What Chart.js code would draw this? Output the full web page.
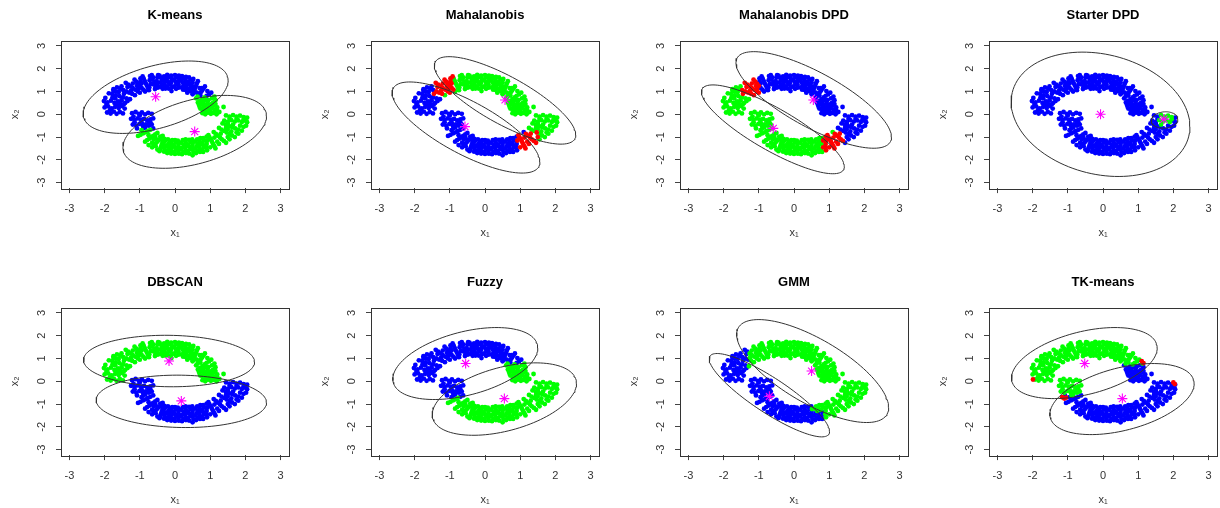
<!DOCTYPE html>
<html>
<head>
<meta charset="utf-8">
<script src="https://cdn.jsdelivr.net/npm/chart.js@4.4.1/dist/chart.umd.min.js"></script>
<style>
  body { margin: 0; background: #fff; width: 1220px; height: 508px; overflow: hidden; position: relative; }
  canvas { position: absolute; }
</style>
</head>
<body>
<script>
// panel titles, left to right, top row then bottom row
const titles = ['K-means', 'Mahalanobis', 'Mahalanobis DPD', 'Starter DPD',
                'DBSCAN', 'Fuzzy', 'GMM', 'TK-means'];
const tickValues = [-3, -2, -1, 0, 1, 2, 3];

// upper moon (left tip -> right tip)
const upperMoon = [
  [-1.93,0.08],[-1.83,0.03],[-1.74,0.12],[-1.66,0.02],[-1.57,0.1],[-1.48,0.04],
  [-2.0,0.3],[-1.9,0.35],[-1.8,0.26],[-1.7,0.33],[-1.6,0.28],[-1.5,0.36],[-1.43,0.25],
  [-2.02,0.58],[-1.92,0.52],[-1.82,0.6],[-1.72,0.5],[-1.62,0.57],[-1.52,0.62],[-1.42,0.5],[-1.35,0.58],
  [-1.88,0.92],[-1.78,0.88],[-1.68,0.83],[-1.58,0.8],[-1.48,0.74],[-1.38,0.7],[-1.28,0.66],
  [-1.65,1.18],[-1.56,1.13],[-1.47,1.06],[-1.38,1.0],[-1.3,0.95],[-1.22,0.9],[-1.14,0.84],
  [-1.4,1.38],[-1.33,1.3],[-1.26,1.22],[-1.2,1.15],[-1.13,1.08],[-1.06,1.01],[-1.0,0.95],
  [-1.15,1.52],[-1.1,1.43],[-1.05,1.34],[-1.0,1.25],[-0.95,1.16],[-0.9,1.08],[-0.85,1.0],
  [-0.92,1.66],[-0.89,1.56],[-0.86,1.46],[-0.83,1.36],[-0.8,1.26],[-0.77,1.16],[-0.74,1.06],
  [-0.66,1.72],[-0.62,1.62],[-0.64,1.52],[-0.58,1.41],[-0.61,1.31],[-0.55,1.21],[-0.57,1.11],
  [-0.44,1.7],[-0.4,1.6],[-0.36,1.5],[-0.42,1.4],[-0.37,1.3],[-0.4,1.2],[-0.35,1.12],
  [-0.22,1.73],[-0.18,1.63],[-0.24,1.53],[-0.2,1.43],[-0.16,1.33],[-0.22,1.23],[-0.18,1.13],
  [0.0,1.72],[0.04,1.62],[-0.03,1.52],[0.02,1.42],[0.05,1.32],[-0.02,1.22],[0.03,1.12],
  [0.2,1.68],[0.24,1.58],[0.17,1.48],[0.22,1.38],[0.26,1.28],[0.19,1.18],[0.23,1.08],
  [0.4,1.62],[0.44,1.52],[0.37,1.42],[0.42,1.32],[0.46,1.22],[0.39,1.12],[0.43,1.02],
  [0.65,1.45],[0.62,1.35],[0.6,1.25],[0.57,1.15],[0.55,1.06],[0.53,0.97],[0.5,0.88],
  [0.85,1.22],[0.81,1.13],[0.77,1.04],[0.73,0.96],[0.68,0.87],[0.64,0.78],[0.6,0.7],
  [1.03,0.95],[0.97,0.88],[0.9,0.81],[0.84,0.74],[0.78,0.66],[0.71,0.59],[0.65,0.52],
  [0.68,0.42],[0.76,0.46],[0.84,0.4],[0.92,0.48],[1.0,0.43],[1.08,0.5],[1.15,0.62],
  [0.72,0.25],[0.8,0.2],[0.88,0.28],[0.96,0.22],[1.04,0.27],[1.12,0.2],[1.2,0.3],
  [0.78,0.05],[0.86,0.0],[0.94,0.07],[1.02,0.02],[1.1,0.06],[1.18,0.0],[1.26,0.1],
  [1.38,0.32],[-1.75,1.02],[0.35,0.95],[-0.1,1.02],[1.12,0.78],
  [-0.72,1.5],[-0.5,1.62],[-0.3,1.42],[-0.1,1.6],[0.1,1.3],[0.3,1.5],[0.5,1.4],
  [-0.28,1.22],[0.12,1.55],[0.32,1.18],[-0.5,1.3],[-0.98,1.45],[-1.45,0.9],[-1.7,0.7],
  [-1.55,0.45],[0.7,1.15],[0.95,0.62],[1.1,0.38],[0.85,0.15],
  [-0.71,1.68],[-0.69,1.33],[-0.73,1.18],[-0.52,1.45],[-0.49,1.17],[-0.48,1.72],
  [-0.31,1.66],[-0.29,1.56],[-0.3,1.33],[-0.27,1.13],[-0.11,1.7],[-0.09,1.47],[-0.12,1.36],[-0.08,1.2],
  [0.11,1.7],[0.09,1.43],[0.1,1.17],[0.31,1.64],[0.29,1.38],[0.33,1.27],[0.3,1.07],
  [0.52,1.55],[0.48,1.25],[0.51,1.13],[0.49,0.98],
  [-1.75,1.1],[-1.6,0.98],[-1.35,1.2],[-1.2,1.35],[-1.25,1.03],[-1.08,1.25],[-0.95,1.35],
  [-1.05,1.12],[-0.98,1.58],[-1.52,1.22],[-1.68,1.0],
  [-1.95,0.45],[-1.85,0.18],[-1.65,0.42],[-1.45,0.45],[-1.78,0.72],[-1.98,0.72],
  [0.75,1.15],[0.62,0.95],[0.92,1.02],[0.72,0.82],[0.88,0.62],[0.75,0.55],[1.05,0.7],
  [0.7,0.33],[0.95,0.33],[1.15,0.45],[0.82,0.32],[1.2,0.15],[1.0,0.12],[0.8,0.5]
];

// lower moon (left tip -> right tip)
const lowerMoon = [
  [-1.22,0.05],[-1.12,0.1],[-1.03,0.02],[-0.94,0.08],[-0.85,0.0],[-0.76,0.06],[-0.66,0.02],
  [-1.25,-0.2],[-1.15,-0.25],[-1.06,-0.18],[-0.97,-0.24],[-0.88,-0.2],[-0.79,-0.27],[-0.7,-0.22],[-0.62,-0.18],
  [-1.2,-0.45],[-1.1,-0.5],[-1.01,-0.42],[-0.92,-0.48],[-0.83,-0.44],[-0.74,-0.5],[-0.66,-0.45],
  [-1.05,-0.95],[-0.98,-0.9],[-0.91,-0.84],[-0.84,-0.79],[-0.77,-0.73],[-0.7,-0.68],[-0.62,-0.62],
  [-0.85,-1.2],[-0.79,-1.13],[-0.73,-1.07],[-0.67,-1.01],[-0.62,-0.95],[-0.56,-0.88],[-0.5,-0.82],
  [-0.65,-1.45],[-0.6,-1.36],[-0.55,-1.28],[-0.5,-1.2],[-0.45,-1.12],[-0.4,-1.03],[-0.35,-0.95],
  [-0.44,-1.62],[-0.42,-1.53],[-0.4,-1.44],[-0.38,-1.35],[-0.36,-1.26],[-0.34,-1.17],[-0.3,-1.08],
  [-0.22,-1.7],[-0.2,-1.6],[-0.16,-1.5],[-0.23,-1.4],[-0.19,-1.3],[-0.15,-1.2],[-0.2,-1.1],
  [0.0,-1.74],[-0.03,-1.64],[0.04,-1.54],[0.0,-1.44],[-0.04,-1.34],[0.03,-1.24],[0.0,-1.13],
  [0.2,-1.75],[0.24,-1.65],[0.17,-1.55],[0.22,-1.45],[0.26,-1.35],[0.18,-1.25],[0.22,-1.14],
  [0.4,-1.72],[0.36,-1.62],[0.44,-1.52],[0.4,-1.42],[0.36,-1.32],[0.44,-1.22],[0.4,-1.12],
  [0.6,-1.7],[0.64,-1.6],[0.57,-1.5],[0.62,-1.4],[0.66,-1.3],[0.58,-1.2],[0.63,-1.1],
  [0.8,-1.65],[0.77,-1.55],[0.83,-1.45],[0.8,-1.35],[0.76,-1.25],[0.83,-1.15],[0.8,-1.05],
  [1.15,-1.5],[1.12,-1.4],[1.08,-1.3],[1.05,-1.2],[1.02,-1.11],[0.98,-1.01],[0.95,-0.92],
  [1.45,-1.25],[1.39,-1.17],[1.33,-1.1],[1.28,-1.02],[1.22,-0.94],[1.16,-0.86],[1.1,-0.78],
  [1.7,-1.0],[1.62,-0.93],[1.55,-0.87],[1.47,-0.8],[1.4,-0.73],[1.32,-0.67],[1.25,-0.6],
  [1.9,-0.72],[1.8,-0.67],[1.71,-0.62],[1.62,-0.56],[1.53,-0.51],[1.44,-0.45],[1.35,-0.4],
  [1.4,-0.28],[1.5,-0.33],[1.6,-0.26],[1.7,-0.32],[1.8,-0.27],[1.9,-0.34],[2.0,-0.28],
  [1.45,-0.05],[1.55,-0.1],[1.65,-0.04],[1.75,-0.1],[1.85,-0.06],[1.95,-0.12],[2.05,-0.15],
  [-0.9,-0.6],[-0.55,-1.4],[-0.3,-1.5],[-0.1,-1.62],[0.1,-1.4],[0.3,-1.58],[0.5,-1.35],
  [0.7,-1.5],[0.9,-1.3],[-0.1,-1.25],[0.3,-1.2],[0.7,-1.2],[1.0,-1.45],[1.25,-1.3],
  [1.55,-1.1],[1.8,-0.85],[2.02,-0.5],[1.5,-0.65],[-1.0,-0.05],[-0.7,-0.35],[0.5,-1.8],[-0.6,-1.1],
  [-0.31,-1.64],[-0.29,-1.38],[-0.32,-1.25],[-0.28,-1.15],[-0.11,-1.72],[-0.09,-1.45],[-0.12,-1.35],[-0.08,-1.13],
  [0.11,-1.73],[0.09,-1.6],[0.12,-1.5],[0.1,-1.27],[0.08,-1.16],[0.31,-1.7],[0.29,-1.45],[0.33,-1.33],[0.3,-1.1],
  [0.52,-1.66],[0.48,-1.52],[0.51,-1.22],[0.49,-1.1],[0.71,-1.65],[0.69,-1.37],[0.72,-1.05],
  [0.91,-1.58],[0.89,-1.45],[0.92,-1.15],[0.9,-0.98],
  [-1.15,-0.35],[-0.95,-0.35],[-0.75,-0.4],[-0.85,-0.58],[-1.08,-0.62],[-1.18,-0.1],[-0.95,-0.7],
  [-0.75,-0.92],[-0.65,-1.25],[-0.55,-1.05],[-0.5,-1.55],[-0.42,-0.98],[-0.75,-1.35],
  [1.2,-1.2],[1.3,-0.85],[1.5,-1.0],[1.6,-0.75],[1.75,-0.8],[1.45,-0.6],[1.65,-0.45],[1.85,-0.5],
  [1.95,-0.55],[1.55,-0.2],[1.75,-0.2],[1.95,-0.22],[1.5,-0.42],[2.05,-0.35],[1.12,-1.02]
];

// cluster colour of each moon per panel
const upperColour = ['blue', 'green', 'blue', 'blue', 'green', 'blue', 'green', 'green'];
const lowerColour = ['green', 'blue', 'green', 'blue', 'blue', 'green', 'blue', 'blue'];

// regions where the colour changes: [panel, moon, colour, xmin, xmax, ymin, ymax] (null = open)
const regions = [
  [0, 'U', 'green', 0.6, null, null, 0.8],
  [0, 'L', 'blue', null, -0.6, -0.65, null],
  [1, 'U', 'blue', null, -1.45, null, null],
  [1, 'U', 'blue', null, -1.2, null, 0.9],
  [1, 'U', 'red', -1.45, -0.9, 0.85, null],
  [1, 'L', 'green', 1.15, null, -0.8, null],
  [1, 'L', 'green', 1.5, null, null, null],
  [1, 'L', 'red', 0.92, 1.5, null, -0.8],
  [2, 'U', 'green', null, -1.5, null, null],
  [2, 'U', 'green', null, -1.25, null, 0.78],
  [2, 'U', 'red', -1.5, -1.0, 0.78, null],
  [2, 'L', 'blue', 1.2, null, -0.85, null],
  [2, 'L', 'blue', 1.4, null, null, null],
  [2, 'L', 'red', 0.83, 1.4, null, -0.85],
  [3, 'L', 'green', 1.58, 1.95, -0.45, 0.0],
  [5, 'U', 'green', 0.6, null, null, 0.8],
  [5, 'L', 'blue', null, -0.6, -0.7, null],
  [6, 'U', 'blue', null, -1.3, null, null],
  [6, 'L', 'green', 0.85, null, null, null],
  [6, 'L', 'green', 0.5, null, -1.3, null],
  [7, 'U', 'blue', 0.6, null, null, 0.7],
  [7, 'L', 'green', null, -0.6, -0.6, null]
];

// trimmed points of TK-means (red)
const tkTrimmed = [[-1.99,0.08],[1.1,0.88],[1.15,0.8],[-1.16,-0.7],[-1.1,-0.76],[-1.05,-0.72],[2.0,-0.05],[2.04,-0.12]];

// cluster centres (magenta asterisks)
const centres = [
  [[-0.55,0.77],[0.56,-0.76]],
  [[-0.57,-0.54],[0.57,0.63]],
  [[0.55,0.63],[-0.59,-0.62]],
  [[-0.07,0.0],[1.73,-0.21]],
  [[-0.17,0.89],[0.18,-0.86]],
  [[-0.55,0.78],[0.55,-0.76]],
  [[0.5,0.45],[-0.7,-0.66]],
  [[-0.52,0.78],[0.55,-0.76]]
];

// ellipses: [cx, cy, half width, half height, correlation]
const ellipses = [
  [[-0.55,0.75,2.06,1.59,0.46],[0.56,-0.77,2.04,1.6,0.43]],
  [[-0.54,-0.58,2.1,2.0,-0.76],[0.57,0.61,2.01,1.92,-0.79]],
  [[-0.6,-0.66,2.03,1.95,-0.84],[0.56,0.63,2.21,2.12,-0.77]],
  [[-0.07,0.0,2.54,2.73,-0.2],[1.75,-0.25,0.38,0.36,0.1]],
  [[-0.17,0.89,2.43,1.13,-0.04],[0.18,-0.88,2.42,1.15,-0.05]],
  [[-0.56,0.78,2.06,1.58,0.43],[0.55,-0.78,2.05,1.59,0.43]],
  [[-0.7,-0.61,1.71,1.83,-0.87],[0.53,0.45,2.16,2.26,-0.71]],
  [[-0.53,0.8,2.07,1.56,0.42],[0.54,-0.78,2.05,1.56,0.43]]
];

const COLOURS = { blue: '#0000FF', green: '#00FF00', red: '#FF0000' };
const FONT = "'Liberation Sans', Arial, sans-serif";
const colLeft = [0, 310, 619, 928];
const rowTop = [0, 267];

function inside(pt, r) {
  return (r[3] === null || pt[0] >= r[3]) && (r[4] === null || pt[0] <= r[4]) &&
         (r[5] === null || pt[1] >= r[5]) && (r[6] === null || pt[1] <= r[6]);
}

function ellipseLine(e) {
  const [cx, cy, hx, hy, rho] = e;
  const out = [];
  for (let i = 0; i <= 120; i++) {
    const t = i / 120 * 2 * Math.PI;
    out.push({ x: cx + hx * Math.cos(t), y: cy + hy * (rho * Math.cos(t) + Math.sqrt(1 - rho * rho) * Math.sin(t)) });
  }
  return out;
}

// box, title and rotated y tick labels
const panelDecor = {
  id: 'panelDecor',
  afterDraw(chart) {
    const { ctx, chartArea: a } = chart;
    ctx.save();
    ctx.strokeStyle = '#333';
    ctx.lineWidth = 1;
    ctx.strokeRect(Math.round(a.left) + 0.5, Math.round(a.top) + 0.5, Math.round(a.right - a.left), Math.round(a.bottom - a.top));
    ctx.fillStyle = '#000';
    ctx.font = 'bold 13px ' + FONT;
    ctx.textAlign = 'center';
    ctx.textBaseline = 'middle';
    ctx.fillText(chart.options.plugins.panelDecor.title, (a.left + a.right) / 2, a.top - 25);
    const ys = chart.scales.y;
    ctx.fillStyle = '#333';
    ctx.font = '11px ' + FONT;
    ys.ticks.forEach(t => {
      ctx.save();
      ctx.translate(a.left - 19, ys.getPixelForValue(t.value));
      ctx.rotate(-Math.PI / 2);
      ctx.fillText(String(t.value), 0, 0);
      ctx.restore();
    });
    ctx.restore();
  }
};

function makePanel(p) {
  const cv = document.createElement('canvas');
  cv.width = 309;
  cv.height = 254;
  cv.style.left = colLeft[p % 4] + 'px';
  cv.style.top = rowTop[Math.floor(p / 4)] + 'px';
  document.body.appendChild(cv);

  const groups = { blue: [], green: [], red: [] };
  [['U', upperMoon, upperColour[p]], ['L', lowerMoon, lowerColour[p]]].forEach(([moon, pts, def]) => {
    pts.forEach(pt => {
      let c = def;
      regions.forEach(r => { if (r[0] === p && r[1] === moon && inside(pt, r)) c = r[2]; });
      groups[c].push({ x: pt[0], y: pt[1] });
    });
  });
  if (p === 7) tkTrimmed.forEach(pt => groups.red.push({ x: pt[0], y: pt[1] }));

  const datasets = [];
  datasets.push({
    data: centres[p].map(c => ({ x: c[0], y: c[1] })),
    pointStyle: 'star', pointRadius: 5, borderColor: '#FF00FF', backgroundColor: '#FF00FF',
    borderWidth: 1.1, order: 0
  });
  ellipses[p].forEach(e => datasets.push({
    data: ellipseLine(e), showLine: true, borderColor: '#333', borderWidth: 1,
    pointRadius: 0, fill: false, tension: 0, order: 1
  }));
  ['red', 'green', 'blue'].forEach(c => {
    if (groups[c].length) datasets.push({
      data: groups[c], pointRadius: 2.4, borderWidth: 0,
      backgroundColor: COLOURS[c], borderColor: COLOURS[c], order: c === 'red' ? 2 : 3
    });
  });

  new Chart(cv, {
    type: 'scatter',
    data: { datasets },
    options: {
      responsive: false,
      animation: false,
      events: [],
      layout: { padding: { left: 0, top: 40.5, right: 20, bottom: 0 } },
      plugins: {
        legend: { display: false },
        tooltip: { enabled: false },
        panelDecor: { title: titles[p] }
      },
      scales: {
        x: {
          type: 'linear', min: -3.24, max: 3.24,
          afterFit: s => { s.height = 65.9; },
          afterBuildTicks: s => { s.ticks = tickValues.map(v => ({ value: v })); },
          ticks: { autoSkip: false, maxRotation: 0, padding: 9, color: '#333', font: { family: FONT, size: 11 } },
          grid: { drawOnChartArea: false, drawTicks: true, tickLength: 5, color: '#444' },
          border: { display: false },
          title: { display: true, text: 'x₁', color: '#333', font: { family: FONT, size: 11 }, padding: { top: 0, bottom: 14 } }
        },
        y: {
          type: 'linear', min: -3.24, max: 3.24,
          afterFit: s => { s.width = 61; },
          afterBuildTicks: s => { s.ticks = tickValues.map(v => ({ value: v })); },
          ticks: { autoSkip: false, color: 'rgba(0,0,0,0)', font: { family: FONT, size: 11 } },
          grid: { drawOnChartArea: false, drawTicks: true, tickLength: 5, color: '#444' },
          border: { display: false },
          title: { display: true, text: 'x₂', color: '#333', font: { family: FONT, size: 11 }, padding: { top: 8, bottom: 0 } }
        }
      }
    },
    plugins: [panelDecor]
  });
}

for (let p = 0; p < 8; p++) makePanel(p);
</script>
</body>
</html>
